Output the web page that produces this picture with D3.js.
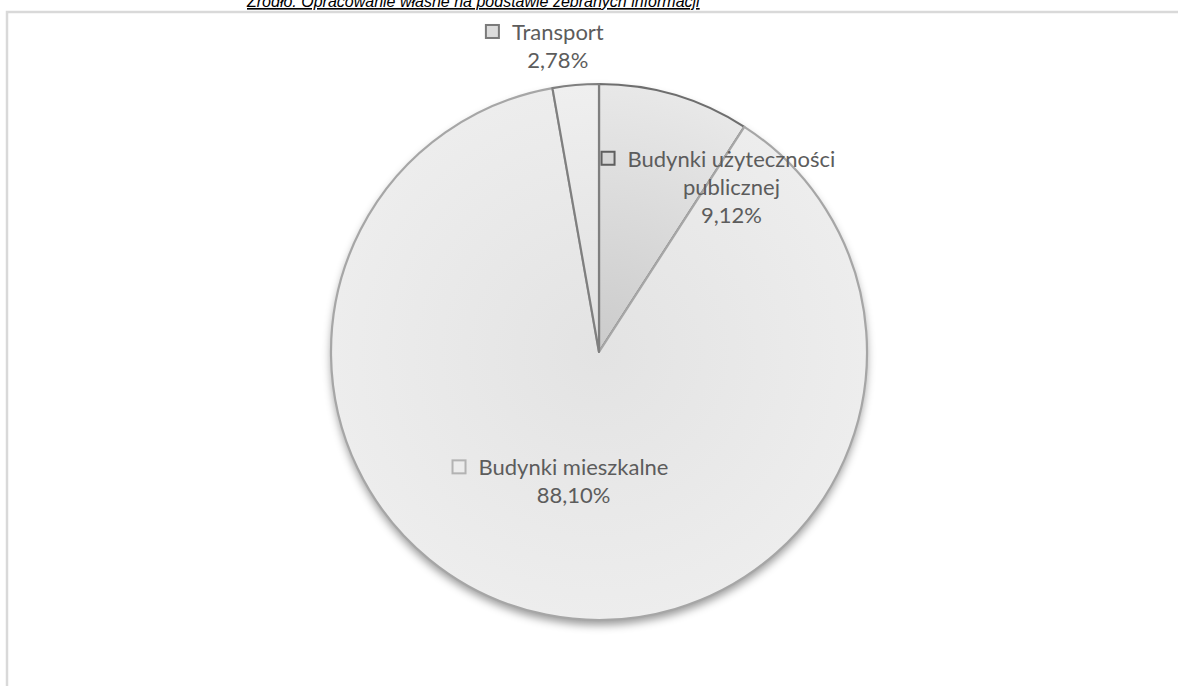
<!DOCTYPE html>
<html>
<head>
<meta charset="utf-8">
<script src="https://cdn.jsdelivr.net/npm/d3@7/dist/d3.min.js"></script>
<style>
  html, body { margin: 0; padding: 0; background: #fff; }
  svg { display: block; }
</style>
</head>
<body>
<div id="chart"></div>
<script>
// data
var categories = ["Budynki użyteczności publicznej", "Budynki mieszkalne", "Transport"];
var values = [9.12, 88.10, 2.78];
var valueLabels = ["9,12%", "88,10%", "2,78%"];
var labelLines = [["Budynki użyteczności", "publicznej"], ["Budynki mieszkalne"], ["Transport"]];
var sourceNote = "Źródło: Opracowanie własne na podstawie zebranych informacji";

var width = 1178, height = 686,
    cx = 599, cy = 352, radius = 268;

// styling per slice
var strokeCol = ["#6e6e6e", "#a6a6a6", "#7f7f7f"];
var fillInner = ["#cbcbcb", "#e3e3e3", "#e0e0e0"];
var fillOuter = ["#e8e8e8", "#ededed", "#efefef"];
var keyStroke = ["#5f5f5f", "#b3b3b3", "#7a7a7a"];
var keyFill = ["#d6d6d6", "#ececec", "#dcdcdc"];
// label placement: radius factor for the centroid, then a nudge
var labelRad = [0.6, 0.5, 1.12];
var labelNudge = [[87, -31], [1, -8], [-15, -13]];

var data = categories.map(function (c, i) {
    return {name: c, value: values[i], label: valueLabels[i], lines: labelLines[i], i: i};
});

var svg = d3.select("#chart").append("svg")
    .attr("width", width)
    .attr("height", height);

var defs = svg.append("defs");

defs.append("filter").attr("id", "shadow")
    .attr("x", "-10%").attr("y", "-10%").attr("width", "120%").attr("height", "125%")
    .append("feDropShadow")
    .attr("dx", 0).attr("dy", 5).attr("stdDeviation", 4)
    .attr("flood-color", "#000").attr("flood-opacity", 0.4);

data.forEach(function (d) {
    var g = defs.append("radialGradient")
        .attr("id", "grad" + d.i)
        .attr("gradientUnits", "userSpaceOnUse")
        .attr("cx", 0).attr("cy", 0).attr("r", radius);
    g.append("stop").attr("offset", "0%").attr("stop-color", fillInner[d.i]);
    g.append("stop").attr("offset", "100%").attr("stop-color", fillOuter[d.i]);
});

// frame around the chart area (only top and left visible)
svg.append("rect")
    .attr("x", 7).attr("y", 12)
    .attr("width", width + 20).attr("height", height + 20)
    .attr("fill", "none")
    .attr("stroke", "#d9d9d9")
    .attr("stroke-width", 2.5);

// source note cut off at the top
svg.append("text")
    .attr("x", 247).attr("y", 7)
    .attr("font-family", "Liberation Sans, Arial, sans-serif")
    .attr("font-size", 16)
    .attr("font-style", "italic")
    .attr("text-decoration", "underline")
    .attr("fill", "#000")
    .text(sourceNote);

var g = svg.append("g").attr("transform", "translate(" + cx + "," + cy + ")");

// shadow disc under the pie
g.append("circle")
    .attr("r", radius)
    .attr("fill", "#ececec")
    .attr("filter", "url(#shadow)");

var pie = d3.pie().sort(null).value(function (d) { return d.value; });
var arcs = pie(data);

var arc = d3.arc().innerRadius(0).outerRadius(radius);

g.selectAll("path.slice")
    .data(arcs)
    .enter().append("path")
    .attr("class", "slice")
    .attr("d", arc)
    .attr("fill", function (d) { return "url(#grad" + d.data.i + ")"; })
    .attr("stroke", function (d) { return strokeCol[d.data.i]; })
    .attr("stroke-width", 2.2)
    .attr("stroke-linejoin", "round");

// labels
var fontSize = 22, lineH = 28;
arcs.forEach(function (d) {
    var i = d.data.i;
    var la = d3.arc().innerRadius(radius * labelRad[i]).outerRadius(radius * labelRad[i]);
    var c = la.centroid(d);
    var x = c[0] + labelNudge[i][0], y = c[1] + labelNudge[i][1];
    var lg = g.append("g").attr("class", "label");
    var lines = d.data.lines.concat([d.data.label]);
    var first;
    lines.forEach(function (t, k) {
        var tx = lg.append("text")
            .attr("x", x).attr("y", y + k * lineH)
            .attr("text-anchor", "middle")
            .attr("font-family", "Lato, Carlito, sans-serif")
            .attr("font-size", fontSize)
            .attr("fill", "#5c5c5c")
            .text(t);
        if (k === 0) first = tx;
    });
    var w = first.node().getComputedTextLength();
    lg.append("rect")
        .attr("x", x - w / 2 - 26).attr("y", y - 15)
        .attr("width", 13).attr("height", 13)
        .attr("fill", keyFill[i])
        .attr("stroke", keyStroke[i])
        .attr("stroke-width", 2);
});
</script>
</body>
</html>
